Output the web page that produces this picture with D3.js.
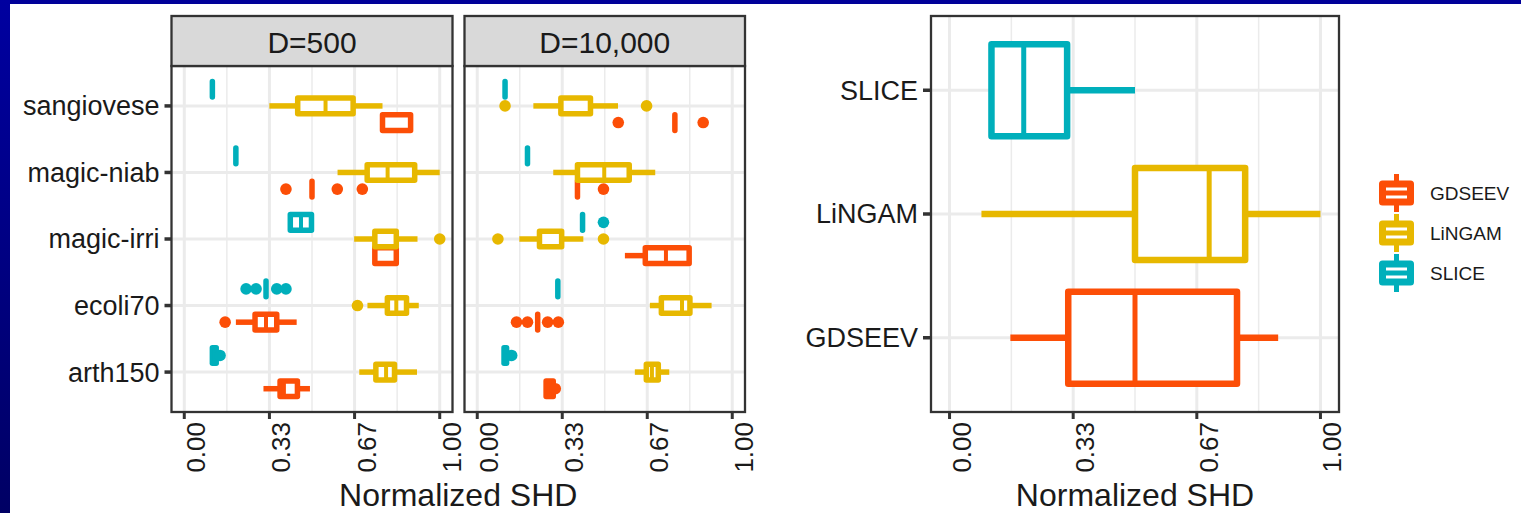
<!DOCTYPE html>
<html>
<head>
<meta charset="utf-8">
<script src="https://cdn.jsdelivr.net/npm/d3@7"></script>
<style>
  body { margin: 0; background: #000099; }
  svg { display: block; font-family: "Liberation Sans", Arial, sans-serif; }
</style>
</head>
<body>
<svg id="chart" width="1521" height="513"></svg>
<script>
var datasets = ["sangiovese", "magic-niab", "magic-irri", "ecoli70", "arth150"];
var methods = ["GDSEEV", "LiNGAM", "SLICE"];
var methodColors = ["#FC4E07", "#E7B800", "#00AFBB"];
var facets = ["D=500", "D=10,000"];
var tickValues = [0, 1/3, 2/3, 1];
var tickLabels = ["0.00", "0.33", "0.67", "1.00"];
var minorTicks = [1/6, 1/2, 5/6];

// [lower whisker, q1, median, q3, upper whisker, outliers]
// rows follow datasets, inner order follows methods
var statsD500 = [
  [[0.776, 0.776, 0.776, 0.886, 0.886, []], [0.333, 0.444, 0.553, 0.661, 0.776, []], [0.11, 0.11, 0.11, 0.11, 0.11, []]],
  [[0.5, 0.5, 0.5, 0.5, 0.5, [0.398, 0.599, 0.697]], [0.6, 0.716, 0.796, 0.902, 1.0, []], [0.202, 0.202, 0.202, 0.202, 0.202, []]],
  [[0.746, 0.746, 0.746, 0.83, 0.83, []], [0.665, 0.746, 0.746, 0.83, 0.913, [1.0]], [0.415, 0.415, 0.457, 0.498, 0.498, []]],
  [[0.202, 0.277, 0.32, 0.362, 0.44, [0.16]], [0.717, 0.795, 0.83, 0.87, 0.918, [0.678]], [0.32, 0.32, 0.32, 0.32, 0.32, [0.242, 0.281, 0.362, 0.398]]],
  [[0.31, 0.375, 0.39, 0.443, 0.492, []], [0.685, 0.75, 0.79, 0.823, 0.911, []], [0.11, 0.11, 0.12, 0.125, 0.125, [0.14]]]
];
var statsD10000 = [
  [[0.775, 0.775, 0.775, 0.775, 0.775, [0.553, 0.886]], [0.22, 0.328, 0.328, 0.444, 0.552, [0.109, 0.664]], [0.109, 0.109, 0.109, 0.109, 0.109, []]],
  [[0.393, 0.393, 0.393, 0.393, 0.393, [0.495]], [0.298, 0.393, 0.498, 0.596, 0.698, []], [0.197, 0.197, 0.197, 0.197, 0.197, []]],
  [[0.579, 0.659, 0.74, 0.831, 0.831, []], [0.165, 0.244, 0.244, 0.331, 0.416, [0.081, 0.495]], [0.413, 0.413, 0.413, 0.413, 0.413, [0.495]]],
  [[0.237, 0.237, 0.237, 0.237, 0.237, [0.154, 0.197, 0.276, 0.318]], [0.677, 0.722, 0.803, 0.834, 0.919, []], [0.316, 0.316, 0.316, 0.316, 0.316, []]],
  [[0.27, 0.27, 0.285, 0.298, 0.298, [0.306]], [0.618, 0.663, 0.685, 0.71, 0.753, []], [0.105, 0.105, 0.11, 0.115, 0.115, [0.135]]]
];
var statsOverall = [
  [0.164, 0.32, 0.50, 0.775, 0.886, []],
  [0.086, 0.50, 0.70, 0.797, 1.0, []],
  [0.113, 0.113, 0.20, 0.317, 0.50, []]
];

var svg = d3.select("#chart");
var color = d3.scaleOrdinal().domain(methods).range(methodColors);

// blue slide frame
var defs = svg.append("defs");
var grad = defs.append("linearGradient").attr("id", "side").attr("x1", 0).attr("y1", 0).attr("x2", 0).attr("y2", 1);
grad.append("stop").attr("offset", "0%").attr("stop-color", "#0000a0");
grad.append("stop").attr("offset", "100%").attr("stop-color", "#000064");
svg.append("rect").attr("width", 1521).attr("height", 513).attr("fill", "#000099");
svg.append("rect").attr("width", 10).attr("height", 513).attr("fill", "url(#side)");
svg.append("rect").attr("x", 10).attr("y", 4).attr("width", 1511).attr("height", 509).attr("fill", "#fff");

var panelTop = 66, panelBottom = 412, stripTop = 16;
var panels = [
  { label: facets[0], x0: 171.5, x1: 452.5, stats: statsD500 },
  { label: facets[1], x0: 464.5, x1: 745, stats: statsD10000 }
];

function drawBox(g, s, x, cy, h, col, lw, mw) {
  var grp = g.append("g");
  grp.append("line")
    .attr("x1", x(s[0])).attr("x2", x(s[1])).attr("y1", cy).attr("y2", cy)
    .attr("stroke", col).attr("stroke-width", lw);
  grp.append("line")
    .attr("x1", x(s[3])).attr("x2", x(s[4])).attr("y1", cy).attr("y2", cy)
    .attr("stroke", col).attr("stroke-width", lw);
  grp.append("path")
    .attr("d", "M" + x(s[1]) + "," + (cy - h / 2) + "H" + x(s[3]) + "V" + (cy + h / 2) + "H" + x(s[1]) + "Z")
    .attr("fill", "#fff").attr("stroke", col).attr("stroke-width", lw)
    .attr("stroke-linejoin", "round");
  grp.append("line")
    .attr("x1", x(s[2])).attr("x2", x(s[2])).attr("y1", cy - h / 2).attr("y2", cy + h / 2)
    .attr("stroke", col).attr("stroke-width", mw);
  grp.selectAll("circle").data(s[5]).enter().append("circle")
    .attr("cx", function(d) { return x(d); }).attr("cy", cy).attr("r", 5.8)
    .attr("fill", col);
}

function drawGrid(g, x, y, cats, top, bottom) {
  g.selectAll(".minor").data(minorTicks).enter().append("line")
    .attr("x1", x).attr("x2", x).attr("y1", top).attr("y2", bottom)
    .attr("stroke", "#ebebeb").attr("stroke-width", 1.5);
  g.selectAll(".major").data(tickValues).enter().append("line")
    .attr("x1", x).attr("x2", x).attr("y1", top).attr("y2", bottom)
    .attr("stroke", "#ebebeb").attr("stroke-width", 3);
  g.selectAll(".hmajor").data(cats).enter().append("line")
    .attr("x1", x.range()[0]).attr("x2", x.range()[1])
    .attr("y1", y).attr("y2", y)
    .attr("stroke", "#ebebeb").attr("stroke-width", 3);
}

function drawXAxis(g, x, bottom) {
  g.selectAll(".xt").data(tickValues).enter().append("line")
    .attr("x1", x).attr("x2", x).attr("y1", bottom).attr("y2", bottom + 7)
    .attr("stroke", "#333").attr("stroke-width", 3);
  g.selectAll(".xl").data(tickValues).enter().append("text")
    .attr("transform", function(d) { return "translate(" + (x(d) + 21) + "," + (bottom + 10) + ") rotate(-90)"; })
    .attr("text-anchor", "end")
    .attr("font-size", 26).attr("fill", "#1a1a1a")
    .text(function(d, i) { return tickLabels[i]; });
}

// left faceted panels
var yLeft = d3.scalePoint().domain(datasets).range([panelTop, panelBottom]).padding(0.6);
var step = yLeft.step();

panels.forEach(function(p, pi) {
  var x = d3.scaleLinear().domain([-0.05, 1.05]).range([p.x0, p.x1]);
  var g = svg.append("g");
  drawGrid(g, x, yLeft, datasets, panelTop, panelBottom);

  methods.forEach(function(m, mi) {
    datasets.forEach(function(ds, di) {
      var cy = yLeft(ds) + (1 - mi) * 0.25 * step;
      drawBox(g, p.stats[di][mi], x, cy, 0.25 * step - 1, color(m), 5.5, 4);
    });
  });

  g.append("rect").attr("x", p.x0).attr("y", panelTop).attr("width", p.x1 - p.x0).attr("height", panelBottom - panelTop)
    .attr("fill", "none").attr("stroke", "#333").attr("stroke-width", 2.3);
  g.append("rect").attr("x", p.x0).attr("y", stripTop).attr("width", p.x1 - p.x0).attr("height", panelTop - stripTop)
    .attr("fill", "#d9d9d9").attr("stroke", "#333").attr("stroke-width", 2.3);
  g.append("text").attr("x", (p.x0 + p.x1) / 2).attr("y", 53).attr("text-anchor", "middle")
    .attr("font-size", 30).attr("fill", "#1a1a1a").text(p.label);

  drawXAxis(g, x, panelBottom);

  if (pi === 0) {
    g.selectAll(".yt").data(datasets).enter().append("line")
      .attr("x1", p.x0 - 7).attr("x2", p.x0).attr("y1", yLeft).attr("y2", yLeft)
      .attr("stroke", "#333").attr("stroke-width", 3.5);
    g.selectAll(".yl").data(datasets).enter().append("text")
      .attr("x", p.x0 - 12).attr("y", yLeft).attr("dy", "0.35em")
      .attr("text-anchor", "end").attr("font-size", 27).attr("fill", "#1a1a1a")
      .text(function(d) { return d; });
  }
});

svg.append("text").attr("x", (panels[0].x0 + panels[1].x1) / 2).attr("y", 506)
  .attr("text-anchor", "middle").attr("font-size", 32).attr("fill", "#1a1a1a").text("Normalized SHD");

// right overall panel
var rx0 = 931, rx1 = 1339;
var xr = d3.scaleLinear().domain([-0.05, 1.05]).range([rx0, rx1]);
var yRight = d3.scalePoint().domain(methods.slice().reverse()).range([stripTop, panelBottom]).padding(0.6);
var gr = svg.append("g");
drawGrid(gr, xr, yRight, methods, stripTop, panelBottom);
methods.forEach(function(m, mi) {
  drawBox(gr, statsOverall[mi], xr, yRight(m), 0.75 * yRight.step() - 1, color(m), 6.5, 5);
});
gr.append("rect").attr("x", rx0).attr("y", stripTop).attr("width", rx1 - rx0).attr("height", panelBottom - stripTop)
  .attr("fill", "none").attr("stroke", "#333").attr("stroke-width", 2.3);
drawXAxis(gr, xr, panelBottom);
gr.selectAll(".yt").data(methods).enter().append("line")
  .attr("x1", rx0 - 8).attr("x2", rx0).attr("y1", yRight).attr("y2", yRight)
  .attr("stroke", "#333").attr("stroke-width", 3.5);
gr.selectAll(".yl").data(methods).enter().append("text")
  .attr("x", rx0 - 13).attr("y", yRight).attr("dy", "0.35em")
  .attr("text-anchor", "end").attr("font-size", 27).attr("fill", "#1a1a1a")
  .text(function(d) { return d; });
svg.append("text").attr("x", (rx0 + rx1) / 2).attr("y", 506)
  .attr("text-anchor", "middle").attr("font-size", 32).attr("fill", "#1a1a1a").text("Normalized SHD");

// legend
var lg = svg.append("g");
methods.forEach(function(m, i) {
  var cy = 193 + 40 * i, kx = 1396.5;
  lg.append("line").attr("x1", kx).attr("x2", kx).attr("y1", cy - 19).attr("y2", cy + 19)
    .attr("stroke", color(m)).attr("stroke-width", 5);
  lg.append("rect").attr("x", kx - 14).attr("y", cy - 9).attr("width", 28).attr("height", 18)
    .attr("fill", "#fff").attr("stroke", color(m)).attr("stroke-width", 7).attr("stroke-linejoin", "round");
  lg.append("line").attr("x1", kx - 14).attr("x2", kx + 14).attr("y1", cy).attr("y2", cy)
    .attr("stroke", color(m)).attr("stroke-width", 5);
  lg.append("text").attr("x", 1430).attr("y", cy).attr("dy", "0.35em")
    .attr("font-size", 19).attr("fill", "#1a1a1a").text(m);
});
</script>
</body>
</html>
